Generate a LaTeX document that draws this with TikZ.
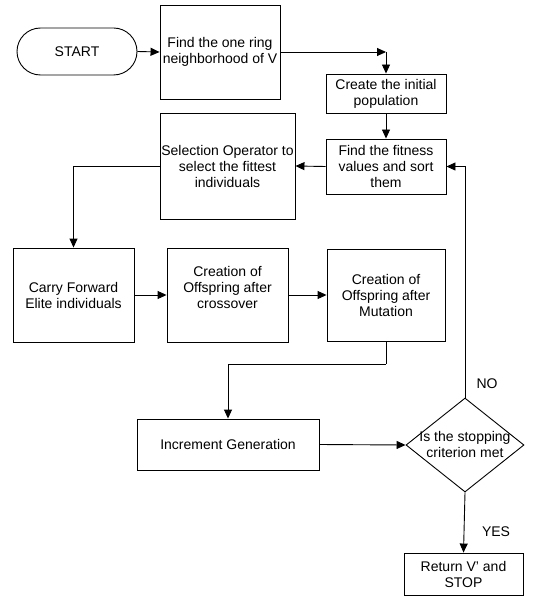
\documentclass[tikz,border=0pt]{standalone}
\usepackage{fontspec}
\setmainfont{Liberation Sans}
\usetikzlibrary{shapes.geometric,arrows.meta}
\begin{document}
\begin{tikzpicture}[x=1pt,y=-1pt,
  every node/.style={font=\fontsize{14}{16}\selectfont},
  box/.style={draw,line width=0.9pt,inner sep=0pt,align=center},
  txt/.style={inner sep=0pt,align=center},
  arr/.style={line width=0.9pt,-{Triangle[length=9pt,width=8pt]}},
  ln/.style={line width=0.9pt}]
\useasboundingbox (0,0) rectangle (551,596);
\node[box,rounded corners=23.5pt,minimum width=120pt,minimum height=47pt] (start) at (77,51.5) {START};
\node[box,minimum width=120pt,minimum height=94pt] (ring) at (220,52) {Find the one ring\\neighborhood of V};
\node[box,minimum width=120pt,minimum height=39pt] (create) at (386,93.5) {Create the initial\\population};
\node[box,minimum width=120pt,minimum height=55pt] (fit) at (386,166.5) {Find the fitness\\values and sort\\them};
\node[box,minimum width=135pt,minimum height=106pt] (sel) at (227.5,166) {Selection Operator to\\select the fittest\\individuals};
\node[box,minimum width=121pt,minimum height=94pt] (carry) at (73.5,295) {Carry Forward\\Elite individuals};
\node[box,minimum width=121pt,minimum height=94pt] (cross) at (227.5,295) {};
\node[txt] (crosst) at (227.5,287) {Creation of\\Offspring after\\crossover};
\node[box,minimum width=118pt,minimum height=92pt] (mut) at (386,295) {Creation of\\Offspring after\\Mutation};
\node[box,minimum width=182pt,minimum height=51pt] (inc) at (228,444.5) {Increment Generation};
\node[draw,line width=0.9pt,diamond,inner sep=0pt,minimum width=118pt,minimum height=94pt] (dia) at (465,445) {};
\node[txt] (diat) at (465,444) {Is the stopping\\criterion met};
\node[box,minimum width=119pt,minimum height=42pt] (ret) at (463.5,574) {Return V' and\\STOP};
\node[txt] (no) at (487,384) {NO};
\node[txt] (yes) at (496,532) {YES};
\coordinate (c1) at (386,52);
\coordinate (c2) at (386,364);
\draw[arr] (start.east) -- (ring.west);
\draw[arr] (ring.east) -- (c1);
\draw[arr] (c1) -- (create.north);
\draw[arr] (create.south) -- (fit.north);
\draw[arr] (fit.west) -- (sel.east);
\draw[arr] (sel.west) -| (carry.north);
\draw[arr] (carry.east) -- (cross.west);
\draw[arr] (cross.east) -- (mut.west);
\draw[ln] (mut.south) -- (c2);
\draw[arr] (c2) -| (inc.north);
\draw[arr] (inc.east) -- (dia.west);
\draw[arr] (dia.north) |- (fit.east);
\draw[arr] (dia.south) -- (ret.north);
\end{tikzpicture}
\end{document}
